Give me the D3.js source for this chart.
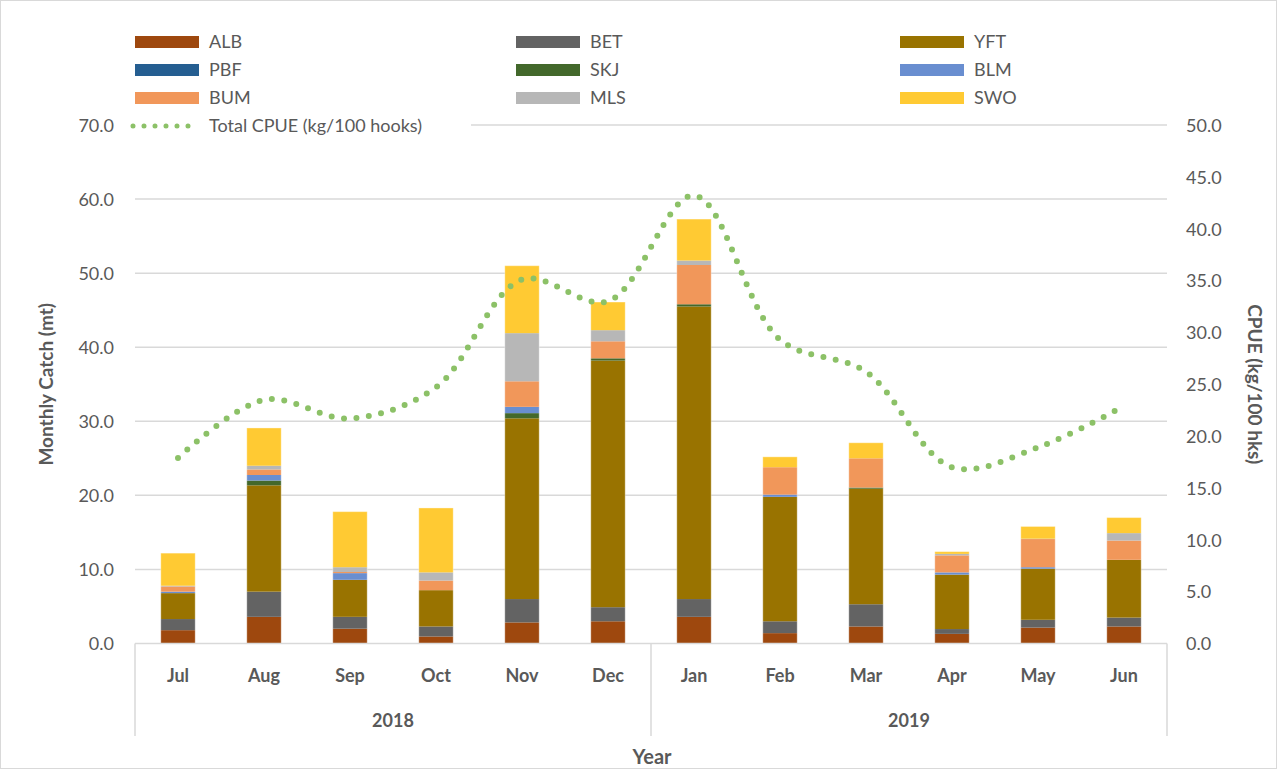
<!DOCTYPE html>
<html>
<head>
<meta charset="utf-8">
<script src="https://cdn.jsdelivr.net/npm/d3@7"></script>
<style>
  body { margin: 0; background: #fff; }
  text { font-family: Lato, "Open Sans", sans-serif; fill: #595959; }
</style>
</head>
<body>
<script>
// mois et années
const months = ["Jul", "Aug", "Sep", "Oct", "Nov", "Dec", "Jan", "Feb", "Mar", "Apr", "May", "Jun"]
const years = [{ label: "2018", from: 0, to: 6 }, { label: "2019", from: 6, to: 12 }]

// espèces (ordre d'empilement)
const species = ["ALB", "BET", "YFT", "PBF", "SKJ", "BLM", "BUM", "MLS", "SWO"]
const colors = ["#9e480e", "#636363", "#997300", "#255e91", "#43682b", "#698ed0", "#f1975a", "#b7b7b7", "#ffca33"]

// captures mensuelles (mt)
const ALB = [1.8, 3.6, 2.0, 0.95, 2.85, 3.0, 3.6, 1.4, 2.3, 1.3, 2.15, 2.3]
const BET = [1.5, 3.4, 1.6, 1.35, 3.15, 1.9, 2.4, 1.6, 3.0, 0.65, 1.05, 1.2]
const YFT = [3.5, 14.35, 5.0, 4.9, 24.4, 33.3, 39.5, 16.8, 15.6, 7.35, 6.9, 7.8]
const PBF = [0, 0, 0, 0, 0, 0, 0, 0, 0, 0, 0, 0]
const SKJ = [0, 0.65, 0, 0, 0.7, 0.3, 0.3, 0, 0.15, 0, 0, 0]
const BLM = [0.2, 0.75, 0.9, 0, 0.85, 0, 0, 0.3, 0, 0.3, 0.2, 0]
const BUM = [0.7, 0.75, 0.15, 1.3, 3.45, 2.3, 5.3, 3.7, 3.95, 2.3, 3.8, 2.6]
const MLS = [0.1, 0.5, 0.65, 1.1, 6.5, 1.5, 0.6, 0, 0, 0.2, 0.05, 1.0]
const SWO = [4.4, 5.1, 7.5, 8.7, 9.1, 3.8, 5.6, 1.4, 2.1, 0.3, 1.65, 2.1]

// CPUE totale (kg/100 hameçons)
const cpue = [17.9, 23.5, 21.7, 24.7, 35.1, 33.0, 43.2, 29.3, 26.2, 17.0, 18.9, 22.9]

const leftTicks = [0, 10, 20, 30, 40, 50, 60, 70]
const rightTicks = [0, 5, 10, 15, 20, 25, 30, 35, 40, 45, 50]

const table = months.map((m, i) => {
    const row = { month: m }
    row.ALB = ALB[i]; row.BET = BET[i]; row.YFT = YFT[i]; row.PBF = PBF[i]; row.SKJ = SKJ[i]
    row.BLM = BLM[i]; row.BUM = BUM[i]; row.MLS = MLS[i]; row.SWO = SWO[i]
    return row
})

let W = 1277, H = 769
let plot = { left: 135, right: 1167, top: 125, bottom: 643.5 }

let svg = d3.select("body").append("svg")
    .attr("width", W)
    .attr("height", H)

svg.append("rect")
    .attr("x", 0.5).attr("y", 0.5)
    .attr("width", W - 1).attr("height", H - 1)
    .attr("fill", "#fff")
    .attr("stroke", "#d9d9d9")

let x = d3.scaleBand()
    .domain(months)
    .range([plot.left, plot.right])
    .paddingInner(0.6)
    .paddingOuter(0.3)

let step = x.step()

let y = d3.scaleLinear().domain([0, 70]).range([plot.bottom, plot.top])
let y2 = d3.scaleLinear().domain([0, 50]).range([plot.bottom, plot.top])

// grille
svg.append("g")
    .selectAll("line")
    .data(leftTicks.slice(1))
    .enter().append("line")
    .attr("x1", plot.left).attr("x2", plot.right)
    .attr("y1", d => y(d)).attr("y2", d => y(d))
    .attr("stroke", "#d9d9d9")
    .attr("stroke-width", 1.5)

// axe gauche
let yAxis = svg.append("g")
    .attr("transform", "translate(" + (plot.left - 18) + ",0)")
    .call(d3.axisLeft(y).tickValues(leftTicks).tickFormat(d3.format(".1f")).tickSize(0))
yAxis.select(".domain").remove()
yAxis.selectAll("text").style("font-size", "18px").attr("dy", "0.35em")

// axe droit
let y2Axis = svg.append("g")
    .attr("transform", "translate(" + (plot.right + 16) + ",0)")
    .call(d3.axisRight(y2).tickValues(rightTicks).tickFormat(d3.format(".1f")).tickSize(0))
y2Axis.select(".domain").remove()
y2Axis.selectAll("text").style("font-size", "18px").attr("dy", "0.35em")

// barres empilées
let stack = d3.stack().keys(species)(table)
let color = d3.scaleOrdinal().domain(species).range(colors)

svg.append("g")
    .selectAll("g")
    .data(stack)
    .enter().append("g")
    .attr("fill", d => color(d.key))
    .selectAll("rect")
    .data(d => d)
    .enter().append("rect")
    .attr("x", d => x(d.data.month))
    .attr("width", x.bandwidth())
    .attr("y", d => y(d[1]))
    .attr("height", d => y(d[0]) - y(d[1]))

// contour léger des barres
svg.append("g")
    .selectAll("rect")
    .data(table)
    .enter().append("rect")
    .attr("x", d => x(d.month))
    .attr("width", x.bandwidth())
    .attr("y", d => y(d3.sum(species, s => d[s])))
    .attr("height", d => plot.bottom - y(d3.sum(species, s => d[s])))
    .attr("fill", "none")
    .attr("stroke", "#fff")
    .attr("stroke-opacity", 0.35)
    .attr("stroke-width", 1)

// axe des x
svg.append("line")
    .attr("x1", plot.left).attr("x2", plot.right)
    .attr("y1", plot.bottom).attr("y2", plot.bottom)
    .attr("stroke", "#d9d9d9")
    .attr("stroke-width", 1.5)

let seps = [0, 6, 12]
svg.append("g")
    .selectAll("line")
    .data(seps)
    .enter().append("line")
    .attr("x1", d => plot.left + d * step).attr("x2", d => plot.left + d * step)
    .attr("y1", plot.bottom).attr("y2", 736)
    .attr("stroke", "#d9d9d9")
    .attr("stroke-width", 1.5)

svg.append("g")
    .selectAll("text")
    .data(months)
    .enter().append("text")
    .attr("x", d => x(d) + x.bandwidth() / 2)
    .attr("y", 682)
    .attr("text-anchor", "middle")
    .style("font-size", "18px")
    .style("font-weight", "bold")
    .text(d => d)

svg.append("g")
    .selectAll("text")
    .data(years)
    .enter().append("text")
    .attr("x", d => plot.left + (d.from + d.to) / 2 * step)
    .attr("y", 727)
    .attr("text-anchor", "middle")
    .style("font-size", "18px")
    .style("font-weight", "bold")
    .text(d => d.label)

// ligne CPUE
let line = d3.line()
    .x((d, i) => x(months[i]) + x.bandwidth() / 2)
    .y(d => y2(d))
    .curve(d3.curveCatmullRom.alpha(0.5))

svg.append("path")
    .datum(cpue)
    .attr("d", line)
    .attr("fill", "none")
    .attr("stroke", "#8cc167")
    .attr("stroke-width", 6)
    .attr("stroke-linecap", "round")
    .attr("stroke-dasharray", "0 12.5")

// titres des axes
svg.append("text")
    .attr("transform", "translate(53," + (plot.top + plot.bottom) / 2 + ") rotate(-90)")
    .attr("text-anchor", "middle")
    .style("font-size", "19px")
    .style("font-weight", "bold")
    .text("Monthly Catch (mt)")

svg.append("text")
    .attr("transform", "translate(1248," + (plot.top + plot.bottom) / 2 + ") rotate(90)")
    .attr("text-anchor", "middle")
    .style("font-size", "19px")
    .style("font-weight", "bold")
    .text("CPUE (kg/100 hks)")

svg.append("text")
    .attr("x", 652)
    .attr("y", 764)
    .attr("text-anchor", "middle")
    .style("font-size", "20px")
    .style("font-weight", "bold")
    .text("Year")

// légende
let colX = [135, 516, 900]
let legend = svg.selectAll(".legend")
    .data(species)
    .enter().append("g")
    .attr("class", "legend")
    .attr("transform", (d, i) => "translate(" + colX[i % 3] + "," + (42 + Math.floor(i / 3) * 28) + ")")

legend.append("rect")
    .attr("y", -6)
    .attr("width", 64)
    .attr("height", 12)
    .attr("fill", d => color(d))

legend.append("text")
    .attr("x", 74)
    .attr("dy", "0.35em")
    .style("font-size", "18px")
    .text(d => d)

let cpueLeg = svg.append("g").attr("transform", "translate(135,126)")
cpueLeg.append("rect")
    .attr("x", -4).attr("y", -11)
    .attr("width", 340).attr("height", 22)
    .attr("fill", "#fff")
cpueLeg.append("line")
    .attr("x1", -2).attr("x2", 64)
    .attr("stroke", "#8cc167")
    .attr("stroke-width", 5)
    .attr("stroke-linecap", "round")
    .attr("stroke-dasharray", "0 11")
cpueLeg.append("text")
    .attr("x", 74)
    .attr("dy", "0.35em")
    .style("font-size", "18px")
    .text("Total CPUE (kg/100 hooks)")
</script>
</body>
</html>
